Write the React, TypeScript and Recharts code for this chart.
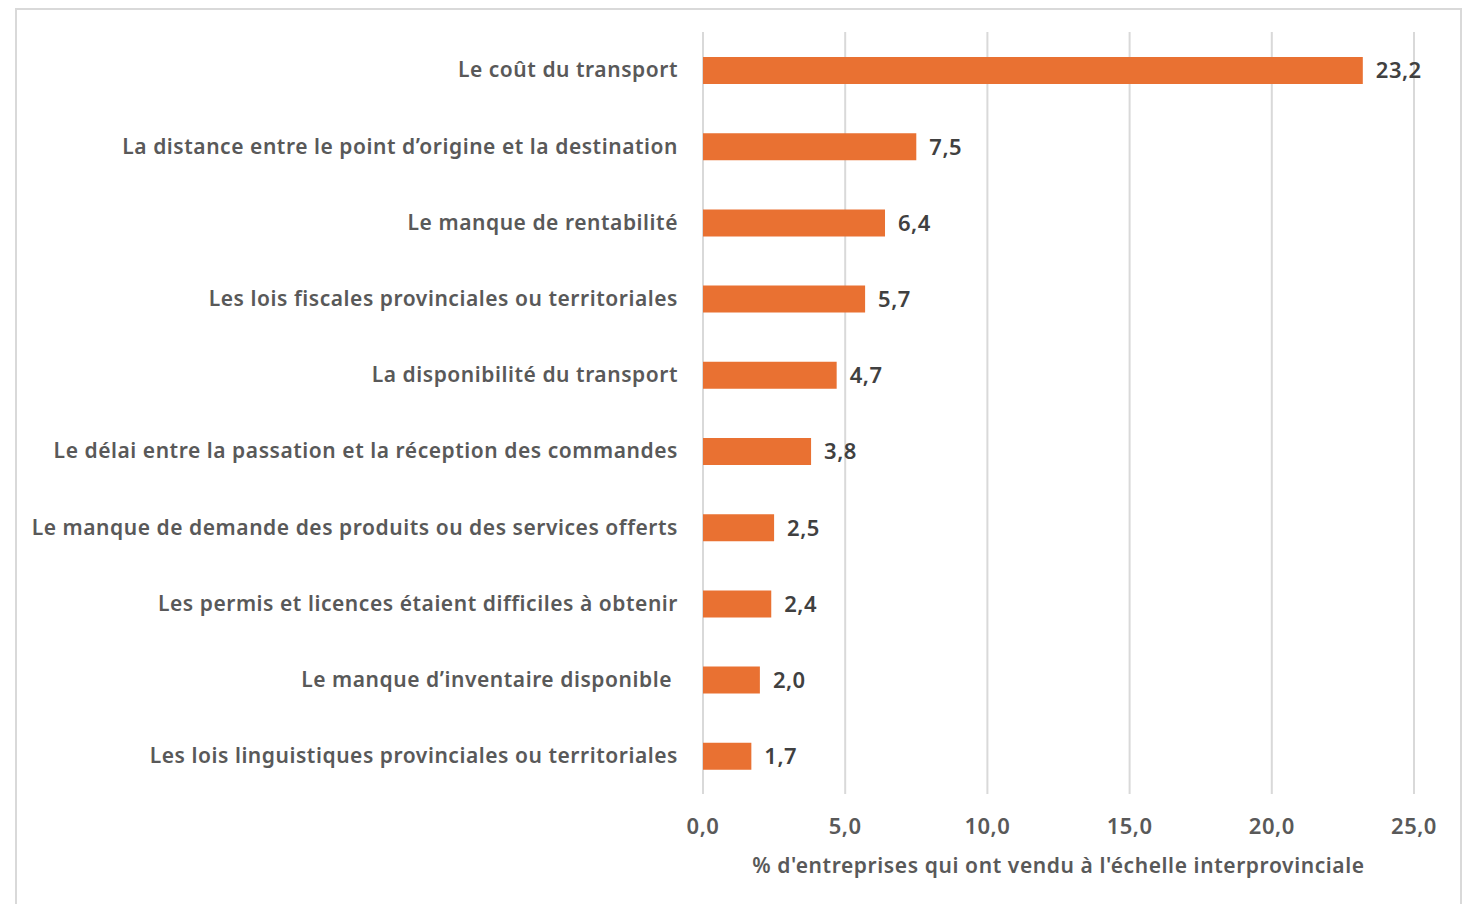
import React from 'react';
import { BarChart, Bar, XAxis, YAxis, CartesianGrid, LabelList, Label } from 'recharts';

const categories = [
  'Le coût du transport',
  'La distance entre le point d\u2019origine et la destination',
  'Le manque de rentabilité',
  'Les lois fiscales provinciales ou territoriales',
  'La disponibilité du transport',
  'Le délai entre la passation et la réception des commandes',
  'Le manque de demande des produits ou des services offerts',
  'Les permis et licences étaient difficiles à obtenir',
  'Le manque d\u2019inventaire disponible\u00A0',
  'Les lois linguistiques provinciales ou territoriales',
];
const values = [23.2, 7.5, 6.4, 5.7, 4.7, 3.8, 2.5, 2.4, 2.0, 1.7];
const xTicks = [0, 5, 10, 15, 20, 25];
const axisTitle = "% d'entreprises qui ont vendu à l'échelle interprovinciale";

const data = categories.map((c, i) => ({ name: c, value: values[i] }));

const FONT = '"Noto Sans", "Open Sans", sans-serif';
const fmt = (v: number) => v.toFixed(1).replace('.', ',');

const YTick = (props: any) => {
  const { x, y, payload } = props;
  return (
    <text x={x} y={y} dy="0.35em" textAnchor="end" fill="#595959" fontSize={21} fontWeight={600} letterSpacing={0.55} fontFamily={FONT}>
      {payload.value}
    </text>
  );
};

export default function App() {
  return (
    <div style={{ position: 'relative', width: 1465, height: 904, overflow: 'hidden', background: '#fff' }}>
      <style>{`html,body{margin:0;padding:0;overflow:hidden;}`}</style>
      <div style={{ position: 'absolute', left: 15, top: 8, width: 1447, height: 920, border: '2px solid #d9d9d9', boxSizing: 'border-box' }} />
      <div style={{ position: 'absolute', left: 0, top: 0, width: 1465, height: 904 }}>
        <BarChart
          width={1465}
          height={904}
          data={data}
          layout="vertical"
          margin={{ top: 32, right: 51, bottom: 0, left: 0 }}
          barSize={27}
        >
          <CartesianGrid horizontal={false} vertical={true} stroke="#d9d9d9" strokeWidth={2} />
          <XAxis
            type="number"
            domain={[0, 25]}
            ticks={xTicks}
            tickFormatter={fmt}
            axisLine={false}
            tickLine={false}
            tickSize={0}
            tickMargin={24}
            height={110}
            tick={{ fill: '#595959', fontSize: 22, fontWeight: 600, fontFamily: FONT, letterSpacing: 0.5 }}
          >
            <Label value={axisTitle} position="insideBottom" offset={31} fill="#595959" fontSize={21} fontWeight={600} letterSpacing={0.6} fontFamily={FONT} />
          </XAxis>
          <YAxis
            type="category"
            dataKey="name"
            width={703}
            axisLine={false}
            tickLine={false}
            tickSize={0}
            tickMargin={25}
            interval={0}
            tick={<YTick />}
          />
          <Bar dataKey="value" fill="#E97132" isAnimationActive={false}>
            <LabelList dataKey="value" position="right" offset={13} formatter={(v: any) => fmt(Number(v))} fill="#404040" fontSize={22} fontWeight={600} letterSpacing={0.5} fontFamily={FONT} />
          </Bar>
        </BarChart>
      </div>
    </div>
  );
}
